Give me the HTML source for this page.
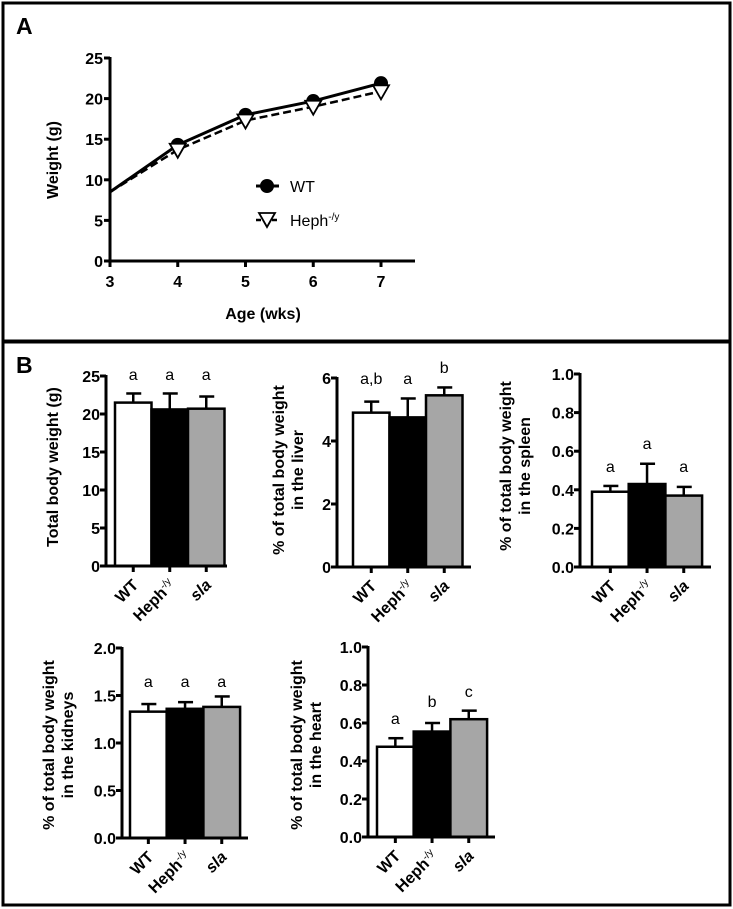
<!DOCTYPE html>
<html><head><meta charset="utf-8">
<style>
body{margin:0;background:#fff;}
svg{display:block;font-family:"Liberation Sans",Arial,sans-serif;}
.tk{font-weight:bold;font-size:16px;}
.tt{font-weight:bold;font-size:16px;}
.lt{font-size:16px;}
</style></head>
<body>
<svg id="fig" width="733" height="909" viewBox="0 0 733 909" xmlns="http://www.w3.org/2000/svg">
<rect x="3" y="3" width="727" height="338" fill="none" stroke="#000" stroke-width="3"/>
<rect x="3" y="342" width="727" height="563" fill="none" stroke="#000" stroke-width="3"/>
<text x="16" y="34" font-weight="bold" font-size="23">A</text>
<text x="16" y="373" font-weight="bold" font-size="23">B</text>
</svg>
<script>
// Panel A data
const ages = [3, 4, 5, 6, 7];
const wtWeights = [8.5, 14.3, 18.0, 19.7, 21.9];
const hephWeights = [8.5, 13.7, 17.3, 19.0, 20.9];
const weightTicks = [0, 5, 10, 15, 20, 25];
// Panel B data
const groups = ['WT', 'Heph', 'sla'];
const bodyMeans = [21.5, 20.6, 20.7];
const bodyErr = [22.7, 22.7, 22.3];
const bodyLetters = ['a', 'a', 'a'];
const liverMeans = [4.9, 4.75, 5.45];
const liverErr = [5.25, 5.35, 5.7];
const liverLetters = ['a,b', 'a', 'b'];
const spleenMeans = [0.39, 0.43, 0.37];
const spleenErr = [0.42, 0.535, 0.415];
const spleenLetters = ['a', 'a', 'a'];
const kidneyMeans = [1.33, 1.36, 1.38];
const kidneyErr = [1.41, 1.43, 1.49];
const kidneyLetters = ['a', 'a', 'a'];
const heartMeans = [0.475, 0.555, 0.62];
const heartErr = [0.52, 0.60, 0.665];
const heartLetters = ['a', 'b', 'c'];

const NS = 'http://www.w3.org/2000/svg';
const svg = document.getElementById('fig');
function mk(tag, attrs, parent) {
  const e = document.createElementNS(NS, tag);
  for (const k in attrs) e.setAttribute(k, attrs[k]);
  (parent || svg).appendChild(e);
  return e;
}

// ---------- Panel A ----------
(function () {
  const x0 = 110, x1 = 381, y0 = 261, y1 = 58;
  const xs = a => x0 + (a - 3) / 4 * (x1 - x0);
  const ys = v => y0 - v / 25 * (y0 - y1);
  const g = mk('g', {});
  
  
  let ax = mk('path', {d: `M${x0} ${y1-1} V${y0} H415`, fill: 'none', stroke: '#000', 'stroke-width': 3}, g);
  
  
  weightTicks.forEach(t => {
    mk('line', {x1: x0 - 6, x2: x0, y1: ys(t), y2: ys(t), stroke: '#000', 'stroke-width': 3}, g);
    const tx = mk('text', {x: x0 - 7, y: ys(t) + 6, 'text-anchor': 'end', class: 'tk'}, g);
    tx.textContent = t;
    
    
  });
  ages.forEach(a => {
    mk('line', {x1: xs(a), x2: xs(a), y1: y0, y2: y0 + 6, stroke: '#000', 'stroke-width': 3}, g);
    const tx = mk('text', {x: xs(a), y: y0 + 26, 'text-anchor': 'middle', class: 'tk'}, g);
    tx.textContent = a;
    
    
  });
  let t = mk('text', {x: 263, y: 319, 'text-anchor': 'middle', class: 'tt'}, g);
  t.textContent = 'Age (wks)';
  
  
  t = mk('text', {x: 0, y: 0, 'text-anchor': 'middle', class: 'tt', transform: 'translate(58,160) rotate(-90)'}, g);
  t.textContent = 'Weight (g)';
  
  
  const hl = mk('polyline', {points: ages.map((a, i) => xs(a) + ',' + ys(hephWeights[i])).join(' '), fill: 'none', stroke: '#000', 'stroke-width': 2.5, 'stroke-dasharray': '8,4'}, g);
  
  
  const wl = mk('polyline', {points: ages.map((a, i) => xs(a) + ',' + ys(wtWeights[i])).join(' '), fill: 'none', stroke: '#000', 'stroke-width': 3}, g);
  
  
  ages.forEach((a, i) => {
    if (i === 0) return;
    const c = mk('circle', {cx: xs(a), cy: ys(wtWeights[i]), r: 7, fill: '#000'}, g);
    
    
  });
  ages.forEach((a, i) => {
    if (i === 0) return;
    const x = xs(a), y = ys(hephWeights[i]);
    const p = mk('polygon', {points: `${x-8},${y-6} ${x+8},${y-6} ${x},${y+8}`, fill: '#fff', stroke: '#000', 'stroke-width': 1.8}, g);
    
    
  });
  const lg = mk('g', {}, g);
  
  
  mk('line', {x1: 256, x2: 279, y1: 186, y2: 186, stroke: '#000', 'stroke-width': 3}, lg);
  mk('circle', {cx: 267, cy: 186, r: 7, fill: '#000'}, lg);
  let lt = mk('text', {x: 290, y: 192, class: 'lt', 'font-size': 16}, lg);
  lt.textContent = 'WT';
  
  
  mk('line', {x1: 256, x2: 279, y1: 220, y2: 220, stroke: '#000', 'stroke-width': 2.5, 'stroke-dasharray': '5,3'}, lg);
  mk('polygon', {points: '259,213 275,213 267,227', fill: '#fff', stroke: '#000', 'stroke-width': 1.8}, lg);
  lt = mk('text', {x: 290, y: 226, class: 'lt', 'font-size': 16}, lg);
  lt.innerHTML = 'Heph<tspan dy="-6" font-size="10">-/y</tspan>';
  
  
})();

// ---------- Panel B bar charts ----------
function barChart(name, cfg, means, errs, letters, ticks, vmax, fmt) {
  const g = mk('g', {});
  
  
  const {ax, y0, ytop, bx, bw, xend, titles, tx, ty} = cfg;
  const ys = v => y0 - v / vmax * (y0 - ytop);
  const fills = ['#fff', '#000', '#a6a6a6'];
  means.forEach((m, i) => {
    const x = bx + i * bw, cx = x + bw / 2;
    const e = mk('line', {x1: cx, x2: cx, y1: ys(m), y2: ys(errs[i]), stroke: '#000', 'stroke-width': 2.5}, g);
    
    
    mk('line', {x1: cx - 7, x2: cx + 8, y1: ys(errs[i]), y2: ys(errs[i]), stroke: '#000', 'stroke-width': 2.5}, g);
    const r = mk('rect', {x: x, y: ys(m), width: bw, height: y0 - ys(m), fill: fills[i], stroke: '#000', 'stroke-width': 2.5}, g);
    
    
    const lt = mk('text', {x: cx, y: letters.ly[i], 'text-anchor': 'middle', class: 'lt'}, g);
    lt.textContent = letters.t[i];
    
    
    mk('line', {x1: cx, x2: cx, y1: y0, y2: y0 + 6, stroke: '#000', 'stroke-width': 3}, g);
    const xl = mk('text', {x: 0, y: 0, 'text-anchor': 'end', class: 'tk', 'font-size': 15, transform: `translate(${cx + 6},${y0 + 20}) rotate(-45)`}, g);
    if (i === 0) xl.textContent = 'WT';
    else if (i === 1) xl.innerHTML = 'Heph<tspan dy="-6" font-size="10" font-weight="normal">-/y</tspan>';
    else xl.innerHTML = '<tspan font-style="italic">sla</tspan>';
    
    
  });
  const a = mk('path', {d: `M${ax} ${ytop - 1} V${y0} H${xend}`, fill: 'none', stroke: '#000', 'stroke-width': 3}, g);
  
  
  ticks.forEach(t => {
    mk('line', {x1: ax - 6, x2: ax, y1: ys(t), y2: ys(t), stroke: '#000', 'stroke-width': 3}, g);
    const tt = mk('text', {x: ax - 6, y: ys(t) + 6, 'text-anchor': 'end', class: 'tk'}, g);
    tt.textContent = fmt(t);
    
    
  });
  const yt = mk('text', {x: 0, y: 0, 'text-anchor': 'middle', class: 'tt', transform: `translate(${tx},${ty}) rotate(-90)`}, g);
  titles.forEach((s, k) => {
    const sp = mk('tspan', {x: 0, dy: k === 0 ? 0 : 19}, yt);
    sp.textContent = s;
  });
  
  
}
const f0 = t => String(t), f1 = t => t.toFixed(1);
barChart('chart-body-weight', {ax: 106, y0: 566, ytop: 376, bx: 115, bw: 36.5, xend: 227, titles: ['Total body weight (g)'], tx: 58, ty: 467},
  bodyMeans, bodyErr, {t: bodyLetters, ly: [380, 380, 380]}, [0, 5, 10, 15, 20, 25], 25, f0);
barChart('chart-liver', {ax: 337, y0: 567, ytop: 378, bx: 353, bw: 36.5, xend: 471, titles: ['% of total body weight', 'in the liver'], tx: 284, ty: 470},
  liverMeans, liverErr, {t: liverLetters, ly: [384, 384, 373]}, [0, 2, 4, 6], 6, f0);
barChart('chart-spleen', {ax: 580, y0: 567, ytop: 374, bx: 592, bw: 36.7, xend: 711, titles: ['% of total body weight', 'in the spleen'], tx: 511, ty: 466},
  spleenMeans, spleenErr, {t: spleenLetters, ly: [472, 449, 472]}, [0, 0.2, 0.4, 0.6, 0.8, 1.0], 1, f1);
barChart('chart-kidneys', {ax: 122, y0: 838, ytop: 648, bx: 130, bw: 36.7, xend: 248, titles: ['% of total body weight', 'in the kidneys'], tx: 54, ty: 745},
  kidneyMeans, kidneyErr, {t: kidneyLetters, ly: [687, 687, 687]}, [0, 0.5, 1.0, 1.5, 2.0], 2, f1);
barChart('chart-heart', {ax: 368, y0: 837, ytop: 647, bx: 377, bw: 36.7, xend: 495, titles: ['% of total body weight', 'in the heart'], tx: 302, ty: 745},
  heartMeans, heartErr, {t: heartLetters, ly: [724, 707, 697]}, [0, 0.2, 0.4, 0.6, 0.8, 1.0], 1, f1);
</script>
</body></html>
